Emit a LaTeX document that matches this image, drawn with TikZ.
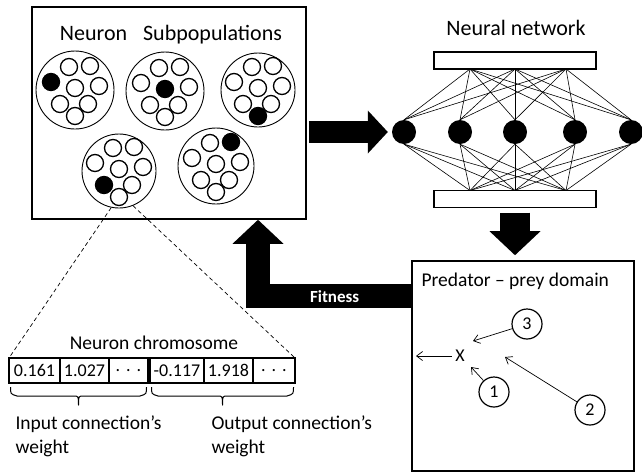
\documentclass[tikz,border=0pt]{standalone}
\usepackage{fontspec}
\setmainfont{Carlito}
\usetikzlibrary{arrows.meta,positioning,calc}
\tikzset{panel/.style={draw,line width=1.6pt,inner sep=0pt}, subpop/.style={circle,draw,line width=0.9pt,inner sep=0pt}, nrn/.style={circle,draw,line width=1.3pt,minimum size=17pt,inner sep=0pt}, unit/.style={circle,fill=black,minimum size=24pt,inner sep=0pt}, bar/.style={draw,line width=1.3pt,minimum width=162pt,minimum height=17pt,inner sep=0pt}, link/.style={line width=0.6pt}, cell/.style={draw,line width=1.2pt,minimum height=25pt,inner sep=0pt,outer sep=0pt,font=\fontsize{18}{20}\selectfont}, agent/.style={circle,draw,line width=1.2pt,minimum size=30pt,inner sep=0pt,font=\fontsize{18}{20}\selectfont}, move/.style={-{Straight Barb[length=6pt,width=9pt]},line width=0.7pt}, fat/.style={line join=miter,-{Triangle[length=#1,width=2*#1+3pt,line width=0pt]}}, zoomline/.style={line width=0.7pt,dash pattern=on 4pt off 3pt}, wbrace/.style={line width=1pt,line join=round}, title/.style={font=\fontsize{22}{26}\selectfont}, lbl/.style={font=\fontsize{19.5}{24}\selectfont,align=left}}

\begin{document}
\begin{tikzpicture}[x=1pt,y=-1pt]
\useasboundingbox (0,0) rectangle (642,472);
\node[panel,minimum width=274pt,minimum height=212pt] (pop) at (169,113) {};
\node[title] (poptitle) at (171,35) {Neuron\hspace{16pt}Subpopulations};
\foreach \name/\cx/\cy/\d/\best in {s1/75/90/78/c,s2/165/91/78/d,s3/258/90/74/h,s4/119/171/74/f,s5/216/166/76/b}{
  \node[subpop,minimum size=\d pt] (\name) at (\cx,\cy) {};
  \foreach \k/\dx/\dy in {a/-6/-23,b/15/-24,c/-24/-8,d/0/-2,e/24/-4,f/-15/14,g/13/14,h/0/26}{
    \edef\fc{\ifx\k\best black\else white\fi}
    \node[nrn,fill=\fc] (\name-\k) at (\cx+\dx,\cy+\dy) {};
  }
}

\node[title] (nntitle) at (516,28) {Neural network};
\node[bar] (inbar) at (515,60.5) {};
\node[bar] (outbar) at (515,199) {};
\foreach \j/\px in {1/470,2/515,3/566}{\coordinate (i\j) at (\px,69); \coordinate (o\j) at (\px,190.5);}
\foreach \k/\px in {1/404,2/460,3/515,4/575,5/631}{\node[unit] (n\k) at (\px,132) {};}
\foreach \k in {1,...,5}{\foreach \j in {1,2,3}{\draw[link] (n\k.north) -- (i\j); \draw[link] (n\k.south) -- (o\j);}}
\draw[fat=20pt,line width=22pt,shorten <=2pt,shorten >=4pt] (pop.east |- n1.west) -- (n1.west);

\node[panel,minimum width=222pt,minimum height=210pt] (pred) at (523,366) {};
\node[lbl,anchor=west] (predtitle) at (418,281) {Predator -- prey domain};
\draw[fat=24pt,line width=30pt,shorten <=4.5pt,shorten >=5pt] (outbar.south) -- (outbar.south |- pred.north);
\draw[fat=24pt,line width=24pt] ([yshift=-36pt]pred.north west) -| ([xshift=89pt]pop.south) node[pos=0.25,text=white,font=\bfseries\fontsize{17}{20}\selectfont] {Fitness};
\node[font=\fontsize{18}{20}\selectfont] (prey) at (460,356) {X};
\node[agent] (a1) at (494,392) {1};
\node[agent] (a2) at (590,410) {2};
\node[agent] (a3) at (527,324) {3};
\coordinate (t1) at (471,367); \coordinate (t2) at (505,357); \coordinate (t3) at (473,341); \coordinate (tx) at (416,356);
\draw[move] (a1) -- (t1); \draw[move] (a2) -- (t2); \draw[move] (a3) -- (t3); \draw[move] (prey) -- (tx);

\node[lbl] (chromtitle) at (154,343) {Neuron chromosome};
\node[cell,minimum width=51pt,anchor=west] (w1) at (9,370.5) {0.161};
\node[cell,minimum width=49pt,right=0pt of w1] (w2) {1.027};
\node[cell,minimum width=39pt,right=0pt of w2] (w3) {.\hspace{6pt}.\hspace{6pt}.};
\node[cell,minimum width=54pt,right=2pt of w3] (w4) {-0.117};
\node[cell,minimum width=49pt,right=0pt of w4] (w5) {1.918};
\node[cell,minimum width=42pt,right=0pt of w5] (w6) {.\hspace{6pt}.\hspace{6pt}.};
\draw[zoomline] (s4.258) -- (w1.north west);
\draw[zoomline] (s4.292) -- (w6.north east);
\foreach \l/\r/\m in {w1/w3/m1,w4/w6/m2}{
  \coordinate (\m) at ($(\l.south west)!0.5!(\r.south east)$);
  \draw[wbrace] ([shift={(1.5pt,-4pt)}]\l.south west) .. controls ([shift={(1.5pt,-11pt)}]\l.south west) .. ([shift={(8pt,-13pt)}]\l.south west) -- ([shift={(-5pt,-13pt)}]\m) .. controls ([yshift=-13pt]\m) .. ([yshift=-22pt]\m) .. controls ([yshift=-13pt]\m) .. ([shift={(5pt,-13pt)}]\m) -- ([shift={(-8pt,-13pt)}]\r.south east) .. controls ([shift={(-1.5pt,-11pt)}]\r.south east) .. ([shift={(-1.5pt,-4pt)}]\r.south east);
}
\node[lbl,anchor=north west] (inw) at (12,412) {Input connection's\\weight};
\node[lbl,anchor=north west] (outw) at (208,412) {Output connection's\\weight};
\end{tikzpicture}
\end{document}
